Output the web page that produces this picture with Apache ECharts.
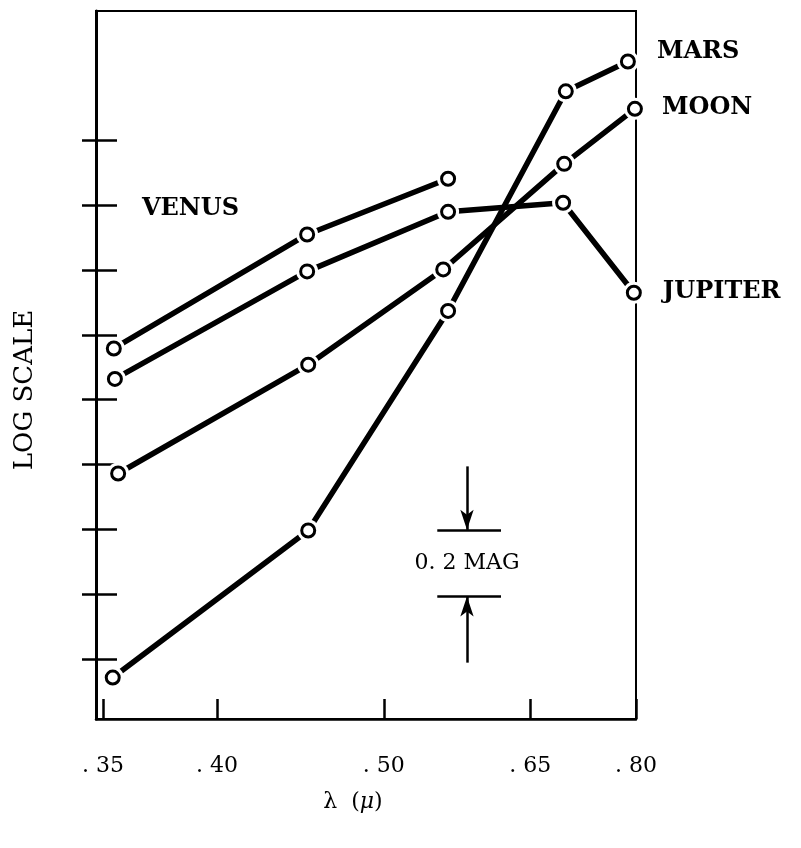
<!DOCTYPE html>
<html>
<head>
<meta charset="utf-8">
<script src="https://cdn.jsdelivr.net/npm/echarts@6/dist/echarts.min.js"></script>
<style>html,body{margin:0;padding:0;background:#fff}#c{width:801px;height:848px}</style>
</head>
<body>
<div id="c"></div>
<script>
// Horizontal axis: position along the drawn wavelength scale (0 = left edge, 100 = right edge)
const xTickValues = [1.3, 22.4, 53.3, 80.4, 100];
const xTickLabels = ['. 35', '. 40', '. 50', '. 65', '. 80'];
// Vertical axis: log brightness, one tick = 0.2 mag
const yTickValues = [1, 2, 3, 4, 5, 6, 7, 8, 9];

const venus   = [[3.3, 5.79], [39.1, 7.55], [65.2, 8.41]];
const jupiter = [[3.5, 5.32], [39.1, 6.98], [65.2, 7.90], [86.5, 8.04], [99.6, 6.65]];
const moon    = [[4.1, 3.86], [39.3, 5.54], [64.3, 7.01], [86.7, 8.64], [99.8, 9.49]];
const mars    = [[3.1, 0.71], [39.3, 2.98], [65.2, 6.37], [87.0, 9.76], [98.5, 10.22]];

const seriesNames = ['VENUS', 'JUPITER', 'MOON', 'MARS'];
const seriesData = [venus, jupiter, moon, mars];
// VENUS name sits inside the plot (left edge, middle, data units)
const venusAnchor = [8.5, 7.95];

// 0.2 mag scale bar
const magBarTop = 2.99, magBarBottom = 1.96;
const magArrowX = 68.7;
const magBarX = [63.2, 75.0];
const magArrowTopStart = 3.97, magArrowBottomStart = 0.94;
const magText = '0. 2 MAG';

const FONT = 'DejaVu Serif';
const nameStyle = {color: '#000', fontFamily: FONT, fontWeight: 'bold', fontSize: 24};
// pixel nudges for end-of-line names (style only)
const endOffsets = {JUPITER: [0, -1], MOON: [-2, -1], MARS: [0, -10]};

const chart = echarts.init(document.getElementById('c'), null, {renderer: 'canvas'});

const series = [];
seriesData.forEach((d, i) => {
  const nm = seriesNames[i];
  const line = {
    name: nm, type: 'line', data: d, showSymbol: false, z: 2,
    lineStyle: {color: '#000', width: 5.5}, silent: true, animation: false
  };
  if (nm === 'VENUS') {
    line.markPoint = {
      symbol: 'circle', symbolSize: 0, animation: false,
      label: Object.assign({show: true, position: 'inside', align: 'left', verticalAlign: 'middle', formatter: nm}, nameStyle),
      data: [{coord: venusAnchor}]
    };
  }
  series.push(line);
  series.push({type: 'scatter', data: d, z: 3, symbol: 'circle', symbolSize: 22,
    itemStyle: {color: '#fff', opacity: 1}, silent: true, animation: false, clip: false});
  const pts = d.map((p, j) => {
    const item = {value: p};
    if (j === d.length - 1 && nm !== 'VENUS') {
      item.label = Object.assign({show: true, position: 'right', distance: 21, offset: endOffsets[nm], formatter: nm}, nameStyle);
    }
    return item;
  });
  series.push({type: 'scatter', data: pts, z: 4, symbol: 'circle', symbolSize: 13,
    itemStyle: {color: '#fff', borderColor: '#000', borderWidth: 3, opacity: 1},
    label: {show: false}, silent: true, animation: false, clip: false});
});

series.push({
  type: 'line', data: [], z: 5, animation: false, silent: true,
  markLine: {
    silent: true, animation: false, symbolSize: [10, 20],
    lineStyle: {color: '#000', width: 2.5, type: 'solid'},
    label: {show: false},
    data: [
      [{coord: [magArrowX, magArrowTopStart], symbol: 'none'}, {coord: [magArrowX, magBarTop], symbol: 'arrow'}],
      [{coord: [magBarX[0], magBarTop], symbol: 'none'}, {coord: [magBarX[1], magBarTop], symbol: 'none'}],
      [{coord: [magBarX[0], magBarBottom], symbol: 'none'}, {coord: [magBarX[1], magBarBottom], symbol: 'none'}],
      [{coord: [magArrowX, magArrowBottomStart], symbol: 'none'}, {coord: [magArrowX, magBarBottom], symbol: 'arrow'}]
    ]
  },
  markPoint: {
    symbol: 'circle', symbolSize: 0, animation: false,
    label: {show: true, position: 'inside', formatter: magText, color: '#000', fontFamily: FONT, fontSize: 22},
    data: [{coord: [magArrowX, (magBarTop + magBarBottom) / 2]}]
  }
});

function xLabel(v) {
  let best = 0;
  xTickValues.forEach((t, i) => { if (Math.abs(t - v) < Math.abs(xTickValues[best] - v)) best = i; });
  return xTickLabels[best];
}

chart.setOption({
  backgroundColor: '#fff',
  animation: false,
  grid: {left: 96, right: 165, top: 11, bottom: 129, show: true, borderColor: '#000', borderWidth: 2, backgroundColor: 'transparent'},
  xAxis: {
    type: 'value', min: 0, max: 100,
    name: 'λ  ({i|μ})', nameLocation: 'middle', nameGap: 72,
    nameTextStyle: {color: '#000', fontFamily: FONT, fontSize: 22, padding: [0, 26, 0, 0],
      rich: {i: {fontStyle: 'italic', fontFamily: FONT, fontSize: 22, color: '#000'}}},
    axisLine: {show: true, lineStyle: {color: '#000', width: 2.5}},
    axisTick: {show: true, inside: true, length: 20, lineStyle: {color: '#000', width: 2.5}, customValues: xTickValues},
    axisLabel: {show: true, margin: 36, color: '#000', fontFamily: FONT, fontSize: 22, customValues: xTickValues, formatter: xLabel},
    splitLine: {show: false}
  },
  yAxis: [{
    type: 'value', min: 0.07, max: 11.0, position: 'left',
    name: 'LOG SCALE', nameLocation: 'middle', nameRotate: 90, nameGap: 58,
    nameTextStyle: {color: '#000', fontFamily: FONT, fontSize: 26, padding: [0, 50, 0, 0]},
    axisLine: {show: true, lineStyle: {color: '#000', width: 3}},
    axisTick: {show: true, inside: false, length: 14, lineStyle: {color: '#000', width: 2.5}, customValues: yTickValues},
    axisLabel: {show: false},
    splitLine: {show: false}
  }, {
    type: 'value', min: 0.07, max: 11.0, position: 'left',
    axisLine: {show: false},
    axisTick: {show: true, inside: true, length: 21, lineStyle: {color: '#000', width: 2.5}, customValues: yTickValues},
    axisLabel: {show: false},
    splitLine: {show: false}
  }],
  series: series
});
</script>
</body>
</html>
